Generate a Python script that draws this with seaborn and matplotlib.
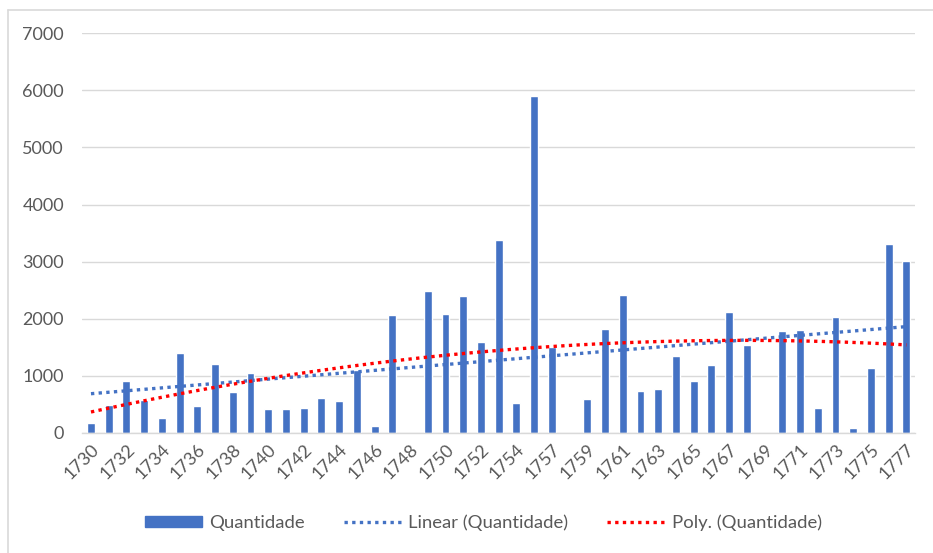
import matplotlib.pyplot as plt
import numpy as np
import pandas as pd
import seaborn as sns
from matplotlib.lines import Line2D
from matplotlib.patches import Patch

years = [
    1730, 1731, 1732, 1733, 1734, 1735, 1736, 1737, 1738, 1739,
    1740, 1741, 1742, 1743, 1744, 1745, 1746, 1747, 1748, 1749,
    1750, 1751, 1752, 1753, 1754, 1755, 1757, 1758, 1759, 1760,
    1761, 1762, 1763, 1764, 1765, 1766, 1767, 1768, 1769, 1770,
    1771, 1772, 1773, 1774, 1775, 1776, 1777,
]
# blank years (1748, 1758, 1769) count as zero, as in the spreadsheet trendlines
quantidade = [
    170, 490, 910, 585, 270, 1400, 475, 1210, 725, 1050,
    420, 420, 432, 605, 555, 1110, 123, 2070, 0, 2490,
    2080, 2400, 1595, 3380, 530, 5900, 1505, 0, 595, 1815,
    2415, 730, 770, 1345, 915, 1190, 2118, 1535, 0, 1780,
    1803, 445, 2030, 82, 1143, 3305, 3020,
]

bar_color = "#4472C4"
poly_color = "#FF0000"
text_color = "#595959"
grid_color = "#D9D9D9"
dots = (0, (1, 1.3))

sns.set_theme(style="white")
plt.rcParams["font.family"] = ["Lato", "DejaVu Sans"]

df = pd.DataFrame({"ano": [str(y) for y in years], "quantidade": quantidade})
pos = np.arange(len(years))

fig, ax = plt.subplots(figsize=(9.33, 5.53), dpi=100)
fig.subplots_adjust(left=0.088, right=0.981, top=0.940, bottom=0.217)

sns.barplot(data=df, x="ano", y="quantidade", color=bar_color, saturation=1,
            width=0.45, ax=ax, zorder=2)
sns.regplot(x=pos, y=df["quantidade"], order=1, ci=None, scatter=False, ax=ax,
            line_kws={"color": bar_color, "ls": dots, "lw": 2.4, "zorder": 3})
sns.regplot(x=pos, y=df["quantidade"], order=2, ci=None, scatter=False, ax=ax,
            line_kws={"color": poly_color, "ls": dots, "lw": 2.4, "zorder": 4})

ax.set_xlim(-0.5, len(years) - 0.5)
ax.set_ylim(0, 7000)
ax.set_yticks(range(0, 7001, 1000))
ax.set_xticks(pos[::2])
ax.set_xticklabels([str(y) for y in years[::2]], rotation=45, ha="right",
                   rotation_mode="anchor")
ax.set_xlabel("")
ax.set_ylabel("")
ax.tick_params(axis="both", labelsize=13, colors=text_color, length=0)
ax.tick_params(axis="y", pad=13)
ax.tick_params(axis="x", pad=6)
ax.yaxis.grid(True, color=grid_color, lw=1, zorder=0)
ax.set_axisbelow(True)
for side in ["top", "right", "left"]:
    ax.spines[side].set_visible(False)
ax.spines["bottom"].set_color(grid_color)
ax.spines["bottom"].set_linewidth(1)

handles = [
    Patch(facecolor=bar_color, edgecolor=bar_color),
    Line2D([], [], color=bar_color, ls=dots, lw=2.4),
    Line2D([], [], color=poly_color, ls=dots, lw=2.4),
]
labels = ["Quantidade", "Linear (Quantidade)", "Poly. (Quantidade)"]
fig.legend(handles, labels, loc="center", bbox_to_anchor=(0.518, 0.055), ncol=3,
           frameon=False, fontsize=13.3, labelcolor=text_color, handlelength=3.1,
           handleheight=0.5, columnspacing=2.1, handletextpad=0.4)

# chart-area frame: only the left and top edges show in the reference crop
fig.add_artist(Line2D([8 / 933, 8 / 933], [0, 1 - 10 / 553], transform=fig.transFigure,
                      color=grid_color, lw=1.2))
fig.add_artist(Line2D([8 / 933, 1], [1 - 10 / 553, 1 - 10 / 553], transform=fig.transFigure,
                      color=grid_color, lw=1.2))

fig.savefig("out.png", dpi=100)
